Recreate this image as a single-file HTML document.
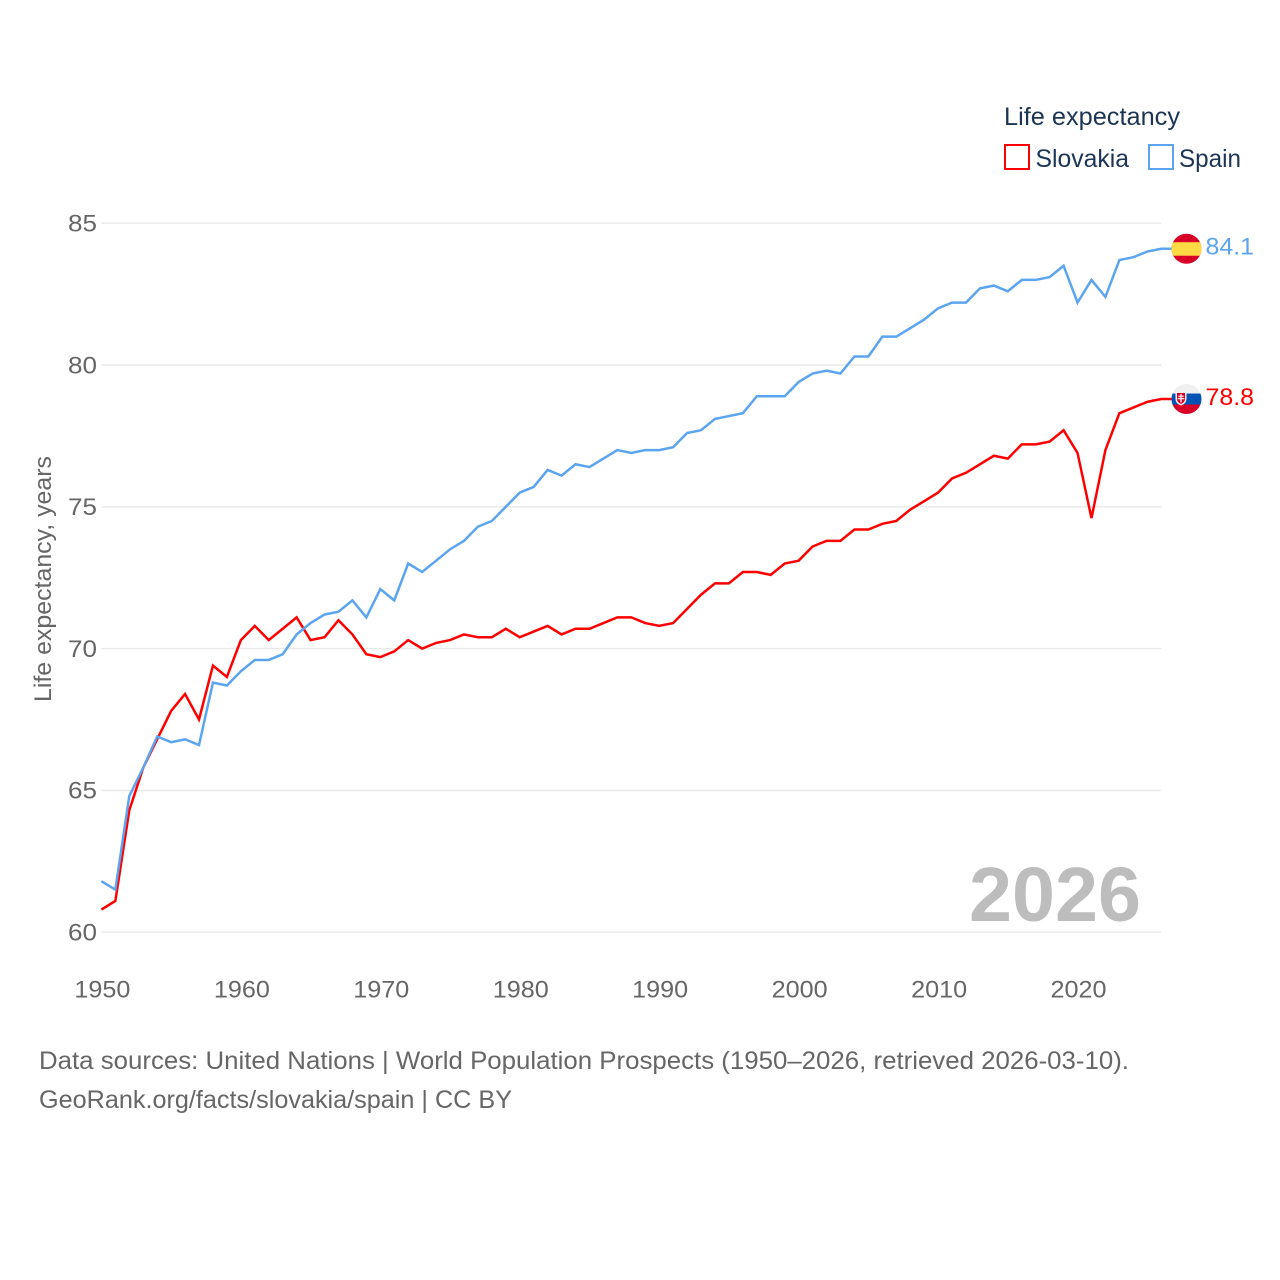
<!DOCTYPE html>
<html lang="en">
<head>
<meta charset="utf-8">
<title>Life expectancy: Slovakia and Spain</title>
<style>
html,body{margin:0;padding:0;background:#fff;}
svg{display:block;}
text{font-family:"Liberation Sans",sans-serif;}
</style>
</head>
<body>
<svg id="chart" xmlns="http://www.w3.org/2000/svg" width="1280" height="1280" viewBox="0 0 1280 1280">
  <rect width="1280" height="1280" fill="#ffffff"/>
  <g id="grid"></g>
  <g id="yticks"></g>
  <g id="xticks"></g>
  <text transform="translate(51,702) rotate(-90)" font-size="24" fill="#666666" textLength="246" lengthAdjust="spacingAndGlyphs">Life expectancy, years</text>
  <text x="969" y="921" font-size="77" font-weight="700" fill="#bdbdbd" textLength="172" lengthAdjust="spacingAndGlyphs">2026</text>
  <g id="series"></g>
  <g id="ends"></g>
  <g>
    <text x="1004" y="125" font-size="25" fill="#1c3555" textLength="176" lengthAdjust="spacingAndGlyphs">Life expectancy</text>
    <rect x="1005" y="145" width="24" height="24" fill="none" stroke="#ff0000" stroke-width="2"/>
    <text x="1035.5" y="167" font-size="25" fill="#1c3555" textLength="93.5" lengthAdjust="spacingAndGlyphs">Slovakia</text>
    <rect x="1149" y="145" width="24" height="24" fill="none" stroke="#5ba4f0" stroke-width="2"/>
    <text x="1179" y="167" font-size="25" fill="#1c3555" textLength="62" lengthAdjust="spacingAndGlyphs">Spain</text>
  </g>
  <g>
    <text x="39" y="1069" font-size="25" fill="#666666" textLength="1090" lengthAdjust="spacingAndGlyphs">Data sources: United Nations | World Population Prospects (1950–2026, retrieved 2026-03-10).</text>
    <text x="39" y="1108" font-size="25" fill="#666666" textLength="473" lengthAdjust="spacingAndGlyphs">GeoRank.org/facts/slovakia/spain | CC BY</text>
  </g>
</svg>
<script>
const startYear = 1950;
const xTickLabels = [1950, 1960, 1970, 1980, 1990, 2000, 2010, 2020];
const yTickLabels = [60, 65, 70, 75, 80, 85];
const slovakiaValues = [60.8,61.1,64.3,65.8,66.8,67.8,68.4,67.5,69.4,69.0,
  70.3,70.8,70.3,70.7,71.1,70.3,70.4,71.0,70.5,69.8,
  69.7,69.9,70.3,70.0,70.2,70.3,70.5,70.4,70.4,70.7,
  70.4,70.6,70.8,70.5,70.7,70.7,70.9,71.1,71.1,70.9,
  70.8,70.9,71.4,71.9,72.3,72.3,72.7,72.7,72.6,73.0,
  73.1,73.6,73.8,73.8,74.2,74.2,74.4,74.5,74.9,75.2,
  75.5,76.0,76.2,76.5,76.8,76.7,77.2,77.2,77.3,77.7,
  76.9,74.6,77.0,78.3,78.5,78.7,78.8];
const spainValues = [61.8,61.5,64.8,65.8,66.9,66.7,66.8,66.6,68.8,68.7,
  69.2,69.6,69.6,69.8,70.5,70.9,71.2,71.3,71.7,71.1,
  72.1,71.7,73.0,72.7,73.1,73.5,73.8,74.3,74.5,75.0,
  75.5,75.7,76.3,76.1,76.5,76.4,76.7,77.0,76.9,77.0,
  77.0,77.1,77.6,77.7,78.1,78.2,78.3,78.9,78.9,78.9,
  79.4,79.7,79.8,79.7,80.3,80.3,81.0,81.0,81.3,81.6,
  82.0,82.2,82.2,82.7,82.8,82.6,83.0,83.0,83.1,83.5,
  82.2,83.0,82.4,83.7,83.8,84.0,84.1];

const NS = 'http://www.w3.org/2000/svg';
const xScale = year => 101.4 + (year - 1950) * (1161.2 - 101.4) / 76;
const yScale = v => 932.2 - (v - 60) * (932.2 - 223.2) / 25;

function make(parent, tag, attrs) {
  const el = document.createElementNS(NS, tag);
  for (const k in attrs) el.setAttribute(k, attrs[k]);
  parent.appendChild(el);
  return el;
}

const grid = document.getElementById('grid');
const yticks = document.getElementById('yticks');
const xticks = document.getElementById('xticks');
const series = document.getElementById('series');
const ends = document.getElementById('ends');

yTickLabels.forEach(v => {
  const line = make(grid, 'line', {x1: xScale(1950), x2: xScale(2026), y1: yScale(v), y2: yScale(v), stroke: '#e9e9e9', 'stroke-width': 1.4});
  
  
  const t = make(yticks, 'text', {x: 97, y: yScale(v) + 8.3, 'font-size': 24.5, fill: '#666666', 'text-anchor': 'end', textLength: 29, lengthAdjust: 'spacingAndGlyphs'});
  
  
  t.textContent = v;
});

xTickLabels.forEach(y => {
  const t = make(xticks, 'text', {x: xScale(y) + 1, y: 997.5, 'font-size': 24.5, fill: '#666666', 'text-anchor': 'middle', textLength: 56, lengthAdjust: 'spacingAndGlyphs'});
  
  
  t.textContent = y;
});

function points(values) {
  const last = values[values.length - 1];
  const pts = values.map((v, i) => xScale(startYear + i).toFixed(2) + ',' + yScale(v).toFixed(2));
  pts.push('1172,' + yScale(last).toFixed(2));
  return pts.join(' ');
}

const slovakiaLine = make(series, 'polyline', {points: points(slovakiaValues), fill: 'none', stroke: '#ff0000', 'stroke-width': 2.5, 'stroke-linejoin': 'miter'});


const spainLine = make(series, 'polyline', {points: points(spainValues), fill: 'none', stroke: '#5ba4f0', 'stroke-width': 2.5, 'stroke-linejoin': 'miter'});



function clipFor(id, cy) {
  const clip = make(ends, 'clipPath', {id: id});
  make(clip, 'circle', {cx: 1186.5, cy: cy, r: 15});
}

// Spain end marker
const spainEnd = spainValues[spainValues.length - 1];
const spainY = yScale(spainEnd);
clipFor('clip-es', spainY);
const esFlag = make(ends, 'g', {'clip-path': 'url(#clip-es)'});


make(esFlag, 'rect', {x: 1171, y: spainY - 16, width: 31, height: 32, fill: '#d80027'});
make(esFlag, 'rect', {x: 1171, y: spainY - 6.5, width: 31, height: 13.5, fill: '#ffda44'});
const spainLabel = make(ends, 'text', {x: 1205.5, y: spainY + 6, 'font-size': 24.5, fill: '#5ba4f0', textLength: 48.5, lengthAdjust: 'spacingAndGlyphs'});


spainLabel.textContent = spainEnd.toFixed(1);

// Slovakia end marker
const skEnd = slovakiaValues[slovakiaValues.length - 1];
const skY = yScale(skEnd);
clipFor('clip-sk', skY);
const skFlag = make(ends, 'g', {'clip-path': 'url(#clip-sk)'});


make(skFlag, 'rect', {x: 1171, y: skY - 16, width: 31, height: 32, fill: '#f0f0f0'});
make(skFlag, 'rect', {x: 1171, y: skY - 5.5, width: 31, height: 11.5, fill: '#0052b4'});
make(skFlag, 'rect', {x: 1171, y: skY + 5.5, width: 31, height: 11, fill: '#d80027'});
make(skFlag, 'path', {d: `M${1175.5} ${skY - 7.5}h11v7.5q0 4.5 -5.5 6.5q-5.5 -2 -5.5 -6.5z`, fill: '#f0f0f0'});
make(skFlag, 'path', {d: `M${1177} ${skY - 6}h8v6q0 3.2 -4 5q-4 -1.8 -4 -5z`, fill: '#d80027'});
make(skFlag, 'path', {d: `M${1180.3} ${skY - 5}h1.4v1.6h2v1.2h-2v1.2h2.6v1.2h-2.6v3h-1.4v-3h-2.6v-1.2h2.6v-1.2h-2v-1.2h2z`, fill: '#f0f0f0'});
const skLabel = make(ends, 'text', {x: 1205.5, y: skY + 6, 'font-size': 24.5, fill: '#ff0000', textLength: 48.5, lengthAdjust: 'spacingAndGlyphs'});


skLabel.textContent = skEnd.toFixed(1);
</script>
</body>
</html>
